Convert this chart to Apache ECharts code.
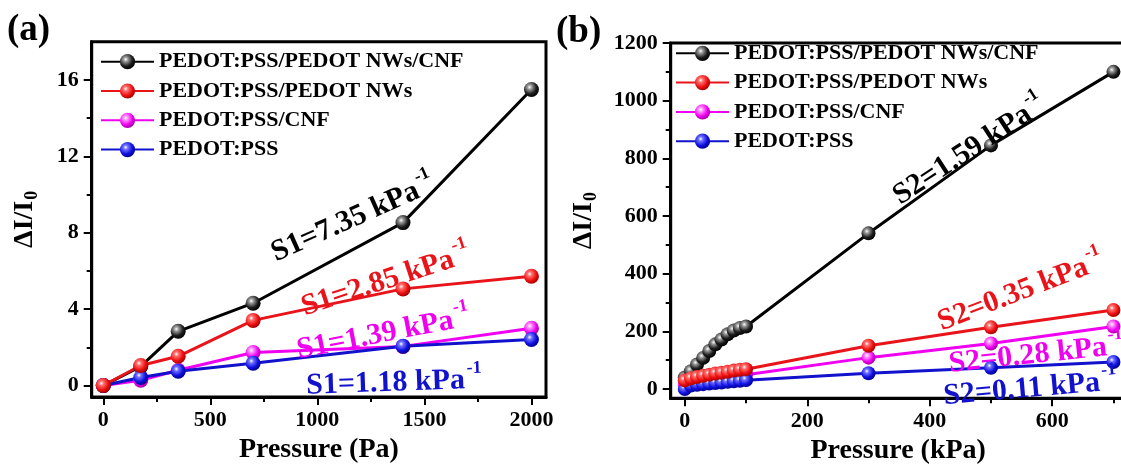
<!DOCTYPE html>
<html>
<head>
<meta charset="utf-8">
<script src="https://cdn.jsdelivr.net/npm/echarts@6/dist/echarts.min.js"></script>
<style>
html,body{margin:0;padding:0;background:#fff;}
#c{width:1121px;height:471px;}
</style>
</head>
<body>
<div id="c"></div>
<script>
// ---------- data ----------
const SERIES_NAMES = ['PEDOT:PSS/PEDOT NWs/CNF', 'PEDOT:PSS/PEDOT NWs', 'PEDOT:PSS/CNF', 'PEDOT:PSS'];

// panel (a): pressure in Pa
const A_X = [0, 175, 350, 700, 1400, 2000];
const A_BLACK = [0, 1.0, 2.84, 4.31, 8.53, 15.5];
const A_RED = [0, 1.05, 1.53, 3.41, 5.06, 5.72];
const A_MAGENTA = [0, 0.28, 0.8, 1.73, 2.05, 3.0];
const A_BLUE = [0, 0.42, 0.75, 1.17, 2.06, 2.41];

// panel (b): pressure in kPa
const B_X = [0, 10, 20, 30, 40, 50, 60, 70, 80, 90, 100, 300, 500, 700];
const B_BLACK = [40, 62, 85, 108, 132, 155, 172, 190, 203, 212, 217, 540, 845, 1100];
const B_RED = [30, 37, 42, 46, 50, 54, 57, 60, 64, 67, 69, 150, 214, 274];
const B_MAGENTA = [15, 22, 26, 30, 33, 36, 39, 42, 45, 48, 50, 109, 158, 217];
const B_BLUE = [0, 12, 15, 17, 19, 21, 23, 25, 27, 29, 31, 55, 74, 94];

// tick labels
const A_XTICKS = [0, 500, 1000, 1500, 2000];
const A_XMINOR = [250, 750, 1250, 1750];
const A_YTICKS = [0, 4, 8, 12, 16];
const A_YMINOR = [2, 6, 10, 14];
const B_XTICKS = [0, 200, 400, 600];
const B_XMINOR = [100, 300, 500, 700];
const B_YTICKS = [0, 200, 400, 600, 800, 1000, 1200];
const B_YMINOR = [100, 300, 500, 700, 900, 1100];

// annotations
const A_NOTES = ['S1=7.35 kPa', 'S1=2.85 kPa', 'S1=1.39 kPa', 'S1=1.18 kPa'];
const B_NOTES = ['S2=1.59 kPa', 'S2=0.35 kPa', 'S2=0.28 kPa', 'S2=0.11 kPa'];

// ---------- styles ----------
const FONT = '"Liberation Serif", "Times New Roman", serif';
const COLORS = ['#000000', '#e8141a', '#f000f0', '#1212cc'];
const BALL = [
  ['#ffffff', '#9a9a9a', '#1e1e1e', '#000000'],
  ['#ffffff', '#ff7070', '#ee1010', '#a00000'],
  ['#ffffff', '#ff90ff', '#f000f0', '#a000a0'],
  ['#ffffff', '#7070ff', '#1010e0', '#00008a']
];
function ball(i) {
  const c = BALL[i];
  return {
    type: 'radial', x: 0.38, y: 0.35, r: 0.68,
    colorStops: [
      {offset: 0, color: c[0]}, {offset: 0.22, color: c[1]},
      {offset: 0.65, color: c[2]}, {offset: 1, color: c[3]}
    ]
  };
}
function zip(xs, ys) { return xs.map((x, i) => [x, ys[i]]); }

const ORDER = [0, 2, 3, 1]; // drawing order: black, magenta, blue, red on top

function makeSeries(xs, ysList, xIdx, yIdx, size) {
  return ORDER.map(i => ({
    name: SERIES_NAMES[i],
    type: 'line',
    xAxisIndex: xIdx, yAxisIndex: yIdx,
    data: zip(xs, ysList[i]),
    symbol: 'circle',
    symbolSize: size,
    showSymbol: true,
    lineStyle: {color: COLORS[i], width: 3},
    itemStyle: {color: ball(i), borderWidth: 0},
    emphasis: {disabled: true},
    animation: false
  }));
}

const axisLabelStyle = {color: '#000', fontFamily: FONT, fontWeight: 'bold', fontSize: 22, formatter: v => String(v)};

function xMajor(grid, min, max, ticks, name, gap) {
  return {
    type: 'value', gridIndex: grid, min: min, max: max, position: 'bottom',
    axisLine: {show: true, onZero: false, lineStyle: {color: '#000', width: 3}},
    axisTick: {show: true, length: 8, lineStyle: {color: '#000', width: 2}, customValues: ticks},
    axisLabel: Object.assign({margin: 12, customValues: ticks}, axisLabelStyle),
    splitLine: {show: false},
    name: name, nameLocation: 'middle', nameGap: gap,
    nameTextStyle: {color: '#000', fontFamily: FONT, fontWeight: 'bold', fontSize: 28}
  };
}
function xMinor(grid, min, max, ticks) {
  return {
    type: 'value', gridIndex: grid, min: min, max: max, position: 'bottom',
    axisLine: {show: false, onZero: false},
    axisTick: {show: true, length: 5, lineStyle: {color: '#000', width: 2}, customValues: ticks},
    axisLabel: {show: false},
    splitLine: {show: false}
  };
}
function yMajor(grid, min, max, ticks, gap) {
  return {
    type: 'value', gridIndex: grid, min: min, max: max, position: 'left',
    axisLine: {show: true, onZero: false, lineStyle: {color: '#000', width: 3}},
    axisTick: {show: true, length: 8, lineStyle: {color: '#000', width: 2}, customValues: ticks},
    axisLabel: Object.assign({margin: 13, customValues: ticks}, axisLabelStyle),
    splitLine: {show: false},
    name: '{m|ΔI/I}{s|0}', nameLocation: 'middle', nameGap: gap,
    nameTextStyle: {
      color: '#000', fontFamily: FONT, fontWeight: 'bold',
      rich: {
        m: {fontSize: 28, fontFamily: FONT, fontWeight: 'bold', color: '#000', lineHeight: 34, verticalAlign: 'middle'},
        s: {fontSize: 18, fontFamily: FONT, fontWeight: 'bold', color: '#000', lineHeight: 34, verticalAlign: 'bottom', padding: [0, 0, 0, 1]}
      }
    }
  };
}
function yMinor(grid, min, max, ticks) {
  return {
    type: 'value', gridIndex: grid, min: min, max: max, position: 'left',
    axisLine: {show: false, onZero: false},
    axisTick: {show: true, length: 5, lineStyle: {color: '#000', width: 2}, customValues: ticks},
    axisLabel: {show: false},
    splitLine: {show: false}
  };
}

function legend(left, top) {
  return {
    left: left, top: top, orient: 'vertical', padding: 0,
    data: SERIES_NAMES.slice(),
    itemWidth: 53, itemHeight: 19, itemGap: 7.3,
    selectedMode: false,
    textStyle: {color: '#000', fontFamily: FONT, fontWeight: 'bold', fontSize: 22, lineHeight: 22}
  };
}

function note(text, color, x, y, deg) {
  return {
    type: 'text', x: x, y: y, rotation: deg * Math.PI / 180, z: 100,
    style: {
      text: '{m|' + text + '}{s|-1}',
      align: 'center', verticalAlign: 'middle',
      rich: {
        m: {fill: color, fontSize: 30, fontFamily: FONT, fontWeight: 'bold', lineHeight: 36, verticalAlign: 'bottom'},
        s: {fill: color, fontSize: 18, fontFamily: FONT, fontWeight: 'bold', lineHeight: 36, verticalAlign: 'top', padding: [0, 0, 0, 2]}
      }
    }
  };
}
function panelLabel(text, x, y) {
  return {
    type: 'text', x: x, y: y, z: 100,
    style: {text: text, fill: '#000', fontSize: 37, fontFamily: FONT, fontWeight: 'bold', align: 'left', verticalAlign: 'top'}
  };
}

const option = {
  backgroundColor: '#fff',
  animation: false,
  grid: [
    {left: 91.7, top: 41.7, width: 454.3, height: 355.3, show: true, borderColor: '#000', borderWidth: 3, backgroundColor: 'transparent', outerBoundsMode: 'none', containLabel: false},
    {left: 670.7, top: 43, width: 455, height: 355.3, show: true, borderColor: '#000', borderWidth: 3, backgroundColor: 'transparent', outerBoundsMode: 'none', containLabel: false}
  ],
  xAxis: [
    xMajor(0, -54, 2068, A_XTICKS, 'Pressure (Pa)', 38),
    xMinor(0, -54, 2068, A_XMINOR),
    xMajor(1, -23, 720, B_XTICKS, 'Pressure (kPa)', 38),
    xMinor(1, -23, 720, B_XMINOR)
  ],
  yAxis: [
    yMajor(0, -0.6, 18, A_YTICKS, 50),
    yMinor(0, -0.6, 18, A_YMINOR),
    yMajor(1, -32, 1200, B_YTICKS, 70),
    yMinor(1, -32, 1200, B_YMINOR)
  ],
  legend: [legend(100, 50.7), legend(675, 42.3)],
  series: [].concat(
    makeSeries(A_X, [A_BLACK, A_RED, A_MAGENTA, A_BLUE], 0, 0, 15),
    makeSeries(B_X, [B_BLACK, B_RED, B_MAGENTA, B_BLUE], 2, 2, 14)
  ),
  graphic: [
    panelLabel('(a)', 7, 12),
    panelLabel('(b)', 556, 14),
    note(A_NOTES[0], COLORS[0], 352, 216, 24),
    note(A_NOTES[1], COLORS[1], 385, 278, 18),
    note(A_NOTES[2], COLORS[2], 383, 331, 11),
    note(A_NOTES[3], COLORS[3], 394, 380, 2),
    note(B_NOTES[0], COLORS[0], 968, 148, 33),
    note(B_NOTES[1], COLORS[1], 1020, 289, 21),
    note(B_NOTES[2], COLORS[2], 1036, 352, 6),
    note(B_NOTES[3], COLORS[3], 1030, 386, 5)
  ]
};

const chart = echarts.init(document.getElementById('c'), null, {renderer: 'canvas', width: 1121, height: 471});
chart.setOption(option);
</script>
</body>
</html>
